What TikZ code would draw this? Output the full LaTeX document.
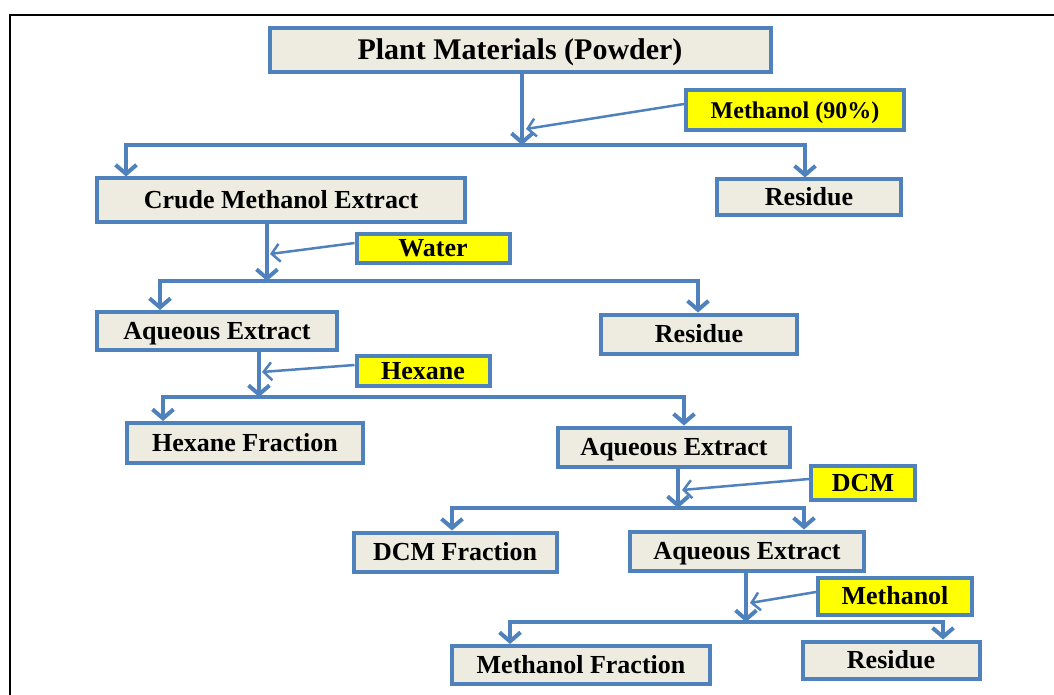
\documentclass[tikz,border=0pt]{standalone}
\usepackage{fontspec}
\setmainfont{Liberation Serif}
\usetikzlibrary{arrows.meta}
\definecolor{flowblue}{RGB}{79,129,189}
\definecolor{boxgrey}{RGB}{238,236,225}
\definecolor{addyellow}{RGB}{255,255,0}

\begin{document}
\begin{tikzpicture}[x=1pt,y=-1pt,
    stage/.style={draw=flowblue,line width=4pt,fill=boxgrey,inner sep=0pt,
        font=\bfseries\fontsize{26}{30}\selectfont,text height=20pt,text depth=3pt},
    solvent/.style={stage,fill=addyellow},
    split/.style={draw=flowblue,line width=4pt,line cap=rect},
    flow/.style={draw=flowblue,line width=4pt,-{Straight Barb[length=9pt,width=21pt]}},
    feed/.style={draw=flowblue,line width=2.5pt,-{Straight Barb[length=8pt,width=18pt]}}]
    \useasboundingbox (0,0) rectangle (1054,695);
    \draw[line width=2.5pt] (10,720) -- (10,15) -- (1080,15);

    \node[stage,minimum width=501,minimum height=44,
        font=\bfseries\fontsize{30}{34}\selectfont,text height=23pt,text depth=4pt]
        (plant) at (520,50) {Plant Materials (Powder)};
    \node[solvent,minimum width=218,minimum height=40,
        font=\bfseries\fontsize{24}{28}\selectfont] (meth90) at (795,110) {Methanol (90\%)};

    \node[stage,minimum width=368,minimum height=43] (crude) at (281,200) {Crude Methanol Extract};
    \node[stage,minimum width=184,minimum height=35] (res1) at (809,197) {Residue};
    \node[solvent,minimum width=153,minimum height=29] (water) at (433,248) {Water};

    \node[stage,minimum width=240,minimum height=38] (aq1) at (217,331) {Aqueous Extract};
    \node[stage,minimum width=196,minimum height=39] (res2) at (699,334) {Residue};
    \node[solvent,minimum width=133,minimum height=30] (hexane) at (423,371) {Hexane};

    \node[stage,minimum width=236,minimum height=40] (hexfr) at (245,443) {Hexane Fraction};
    \node[stage,minimum width=232,minimum height=39] (aq2) at (674,447) {Aqueous Extract};
    \node[solvent,minimum width=104,minimum height=34] (dcm) at (863,483) {DCM};

    \node[stage,minimum width=203,minimum height=39] (dcmfr) at (455,552) {DCM Fraction};
    \node[stage,minimum width=234,minimum height=39] (aq3) at (747,551) {Aqueous Extract};
    \node[solvent,minimum width=154,minimum height=37] (meth) at (895,596) {Methanol};

    \node[stage,minimum width=258,minimum height=38] (methfr) at (581,665) {Methanol Fraction};
    \node[stage,minimum width=177,minimum height=37] (res3) at (891,660) {Residue};

    % methanol extraction
    \coordinate (j1) at (522,145);
    \coordinate (j1l) at (126,145);
    \coordinate (j1r) at (805,145);
    \coordinate (m1) at (526,129);
    \draw[flow] (plant.south -| j1) -- (j1);
    \draw[split] (j1l) -- (j1r);
    \draw[flow] (j1l) -- (crude.north -| j1l);
    \draw[flow] (j1r) -- (res1.north -| j1r);
    \draw[feed] ([yshift=6pt]meth90.west) -- (m1);

    % water
    \coordinate (j2) at (267,281);
    \coordinate (j2l) at (160,281);
    \coordinate (j2r) at (698,281);
    \coordinate (m2) at (270,254);
    \draw[flow] (crude.south -| j2) -- (j2);
    \draw[split] (j2l) -- (j2r);
    \draw[flow] (j2l) -- (aq1.north -| j2l);
    \draw[flow] (j2r) -- (res2.north -| j2r);
    \draw[feed] ([yshift=5pt]water.west) -- (m2);

    % hexane
    \coordinate (j3) at (259,397);
    \coordinate (j3l) at (163,397);
    \coordinate (j3r) at (684,397);
    \coordinate (m3) at (262,372);
    \draw[flow] (aq1.south -| j3) -- (j3);
    \draw[split] (j3l) -- (j3r);
    \draw[flow] (j3l) -- (hexfr.north -| j3l);
    \draw[flow] (j3r) -- (aq2.north -| j3r);
    \draw[feed] ([yshift=6pt]hexane.west) -- (m3);

    % dcm
    \coordinate (j4) at (678,508);
    \coordinate (j4l) at (452,508);
    \coordinate (j4r) at (804,508);
    \coordinate (m4) at (682,490);
    \draw[flow] (aq2.south -| j4) -- (j4);
    \draw[split] (j4l) -- (j4r);
    \draw[flow] (j4l) -- (dcmfr.north -| j4l);
    \draw[flow] (j4r) -- (aq3.north -| j4r);
    \draw[feed] ([yshift=4pt]dcm.west) -- (m4);

    % methanol
    \coordinate (j5) at (746,622);
    \coordinate (j5l) at (510,622);
    \coordinate (j5r) at (943,622);
    \coordinate (m5) at (750,603);
    \draw[flow] (aq3.south -| j5) -- (j5);
    \draw[split] (j5l) -- (j5r);
    \draw[flow] (j5l) -- (methfr.north -| j5l);
    \draw[flow] (j5r) -- (res3.north -| j5r);
    \draw[feed] ([yshift=4pt]meth.west) -- (m5);
\end{tikzpicture}
\end{document}
